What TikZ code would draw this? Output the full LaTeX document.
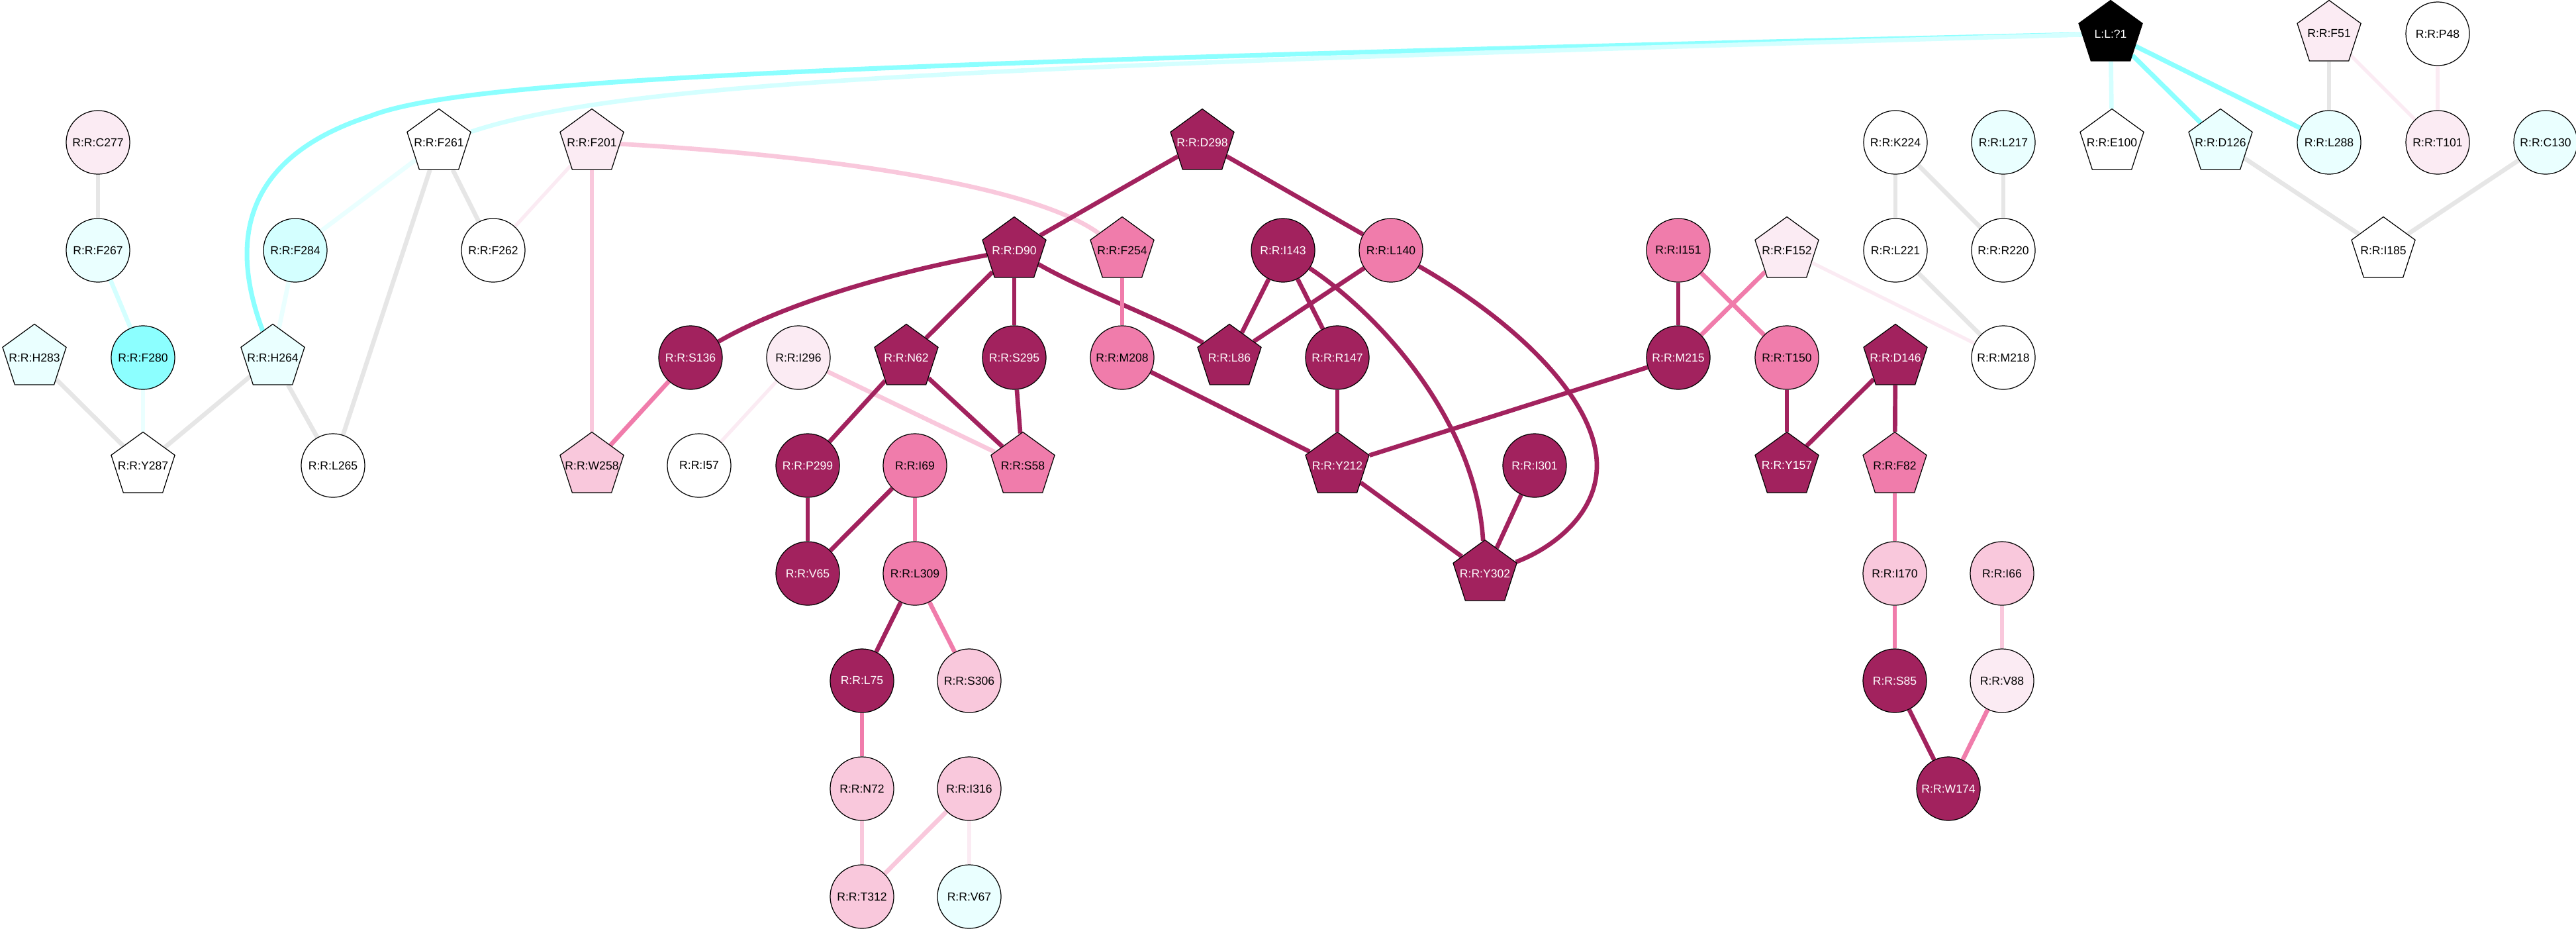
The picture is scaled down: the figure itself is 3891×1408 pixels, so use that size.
\documentclass[tikz,border=0pt]{standalone}
\usepackage{fontspec}
\setmainfont{Liberation Sans}
\usetikzlibrary{shapes.geometric,backgrounds}
\definecolor{dkmag}{HTML}{A2225E}
\definecolor{mdpink}{HTML}{F07CAB}
\definecolor{ltpink}{HTML}{F9C8DC}
\definecolor{vlpink}{HTML}{FBEBF3}
\definecolor{cyfull}{HTML}{8CFFFF}
\definecolor{ltcyan}{HTML}{D4FFFF}
\definecolor{vlcyan}{HTML}{EAFFFF}
\definecolor{edgegray}{HTML}{E6E6E6}
\begin{document}
\begin{tikzpicture}[x=0.01cm,y=-0.01cm,
    res/.style={circle,draw=black,line width=0.35pt,minimum size=0.96cm,inner sep=0pt,font=\fontsize{5}{6}\selectfont},
    pent/.style={regular polygon,regular polygon sides=5,draw=black,line width=0.35pt,minimum size=1.01cm,inner sep=0pt,font=\fontsize{5}{6}\selectfont,
        execute at begin node={\hbox to 0pt\bgroup\hss},execute at end node={\hss\egroup}},
    dk/.style={fill=dkmag,text=white},
    md/.style={fill=mdpink},
    lt/.style={fill=ltpink},
    vl/.style={fill=vlpink},
    cy/.style={fill=cyfull},
    lc/.style={fill=ltcyan},
    vc/.style={fill=vlcyan},
    wh/.style={fill=white},
    dkline/.style={draw=dkmag,line width=1.9pt},
    mdline/.style={draw=mdpink,line width=1.9pt},
    ltline/.style={draw=ltpink,line width=1.9pt},
    vlline/.style={draw=vlpink,line width=1.5pt},
    cyline/.style={draw=cyfull,line width=2pt},
    lcline/.style={draw=ltcyan,line width=1.9pt},
    vcline/.style={draw=vlcyan,line width=1.9pt},
    grline/.style={draw=edgegray,line width=1.9pt}]
    \useasboundingbox (0,0) rectangle (3891,1408);
    \node[pent,fill=black,text=white] (LL) at (3188,51) {L:L:?1};
    \node[pent,vl] (F51) at (3518,51) {R:R:F51};
    \node[res,wh] (P48) at (3682,51) {R:R:P48};
    \node[res,vl] (C277) at (148,215) {R:R:C277};
    \node[pent,wh] (F261) at (663,215) {R:R:F261};
    \node[pent,vl] (F201) at (894,215) {R:R:F201};
    \node[pent,dk] (D298) at (1816,215) {R:R:D298};
    \node[res,wh] (K224) at (2863,215) {R:R:K224};
    \node[res,vc] (L217) at (3026,215) {R:R:L217};
    \node[pent,wh] (E100) at (3190,215) {R:R:E100};
    \node[pent,vc] (D126) at (3354,215) {R:R:D126};
    \node[res,vc] (L288) at (3518,215) {R:R:L288};
    \node[res,vl] (T101) at (3682,215) {R:R:T101};
    \node[res,vc] (C130) at (3845,215) {R:R:C130};
    \node[res,vc] (F267) at (148,378) {R:R:F267};
    \node[res,lc] (F284) at (446,378) {R:R:F284};
    \node[res,wh] (F262) at (745,378) {R:R:F262};
    \node[pent,dk] (D90) at (1532,378) {R:R:D90};
    \node[pent,md] (F254) at (1695,378) {R:R:F254};
    \node[res,dk] (I143) at (1938,378) {R:R:I143};
    \node[res,md] (L140) at (2101,378) {R:R:L140};
    \node[res,md] (I151) at (2535,378) {R:R:I151};
    \node[pent,vl] (F152) at (2699,378) {R:R:F152};
    \node[res,wh] (L221) at (2863,378) {R:R:L221};
    \node[res,wh] (R220) at (3026,378) {R:R:R220};
    \node[pent,wh] (I185) at (3600,378) {R:R:I185};
    \node[pent,vc] (H283) at (52,540) {R:R:H283};
    \node[res,cy] (F280) at (216,540) {R:R:F280};
    \node[pent,vc] (H264) at (412,540) {R:R:H264};
    \node[res,dk] (S136) at (1043,540) {R:R:S136};
    \node[res,vl] (I296) at (1206,540) {R:R:I296};
    \node[pent,dk] (N62) at (1369,540) {R:R:N62};
    \node[res,dk] (S295) at (1532,540) {R:R:S295};
    \node[res,md] (M208) at (1695,540) {R:R:M208};
    \node[pent,dk] (L86) at (1857,540) {R:R:L86};
    \node[res,dk] (R147) at (2020,540) {R:R:R147};
    \node[res,dk] (M215) at (2535,540) {R:R:M215};
    \node[res,md] (T150) at (2699,540) {R:R:T150};
    \node[pent,dk] (D146) at (2863,540) {R:R:D146};
    \node[res,wh] (M218) at (3026,540) {R:R:M218};
    \node[pent,wh] (Y287) at (216,703) {R:R:Y287};
    \node[res,wh] (L265) at (503,703) {R:R:L265};
    \node[pent,lt] (W258) at (894,703) {R:R:W258};
    \node[res,wh] (I57) at (1056,703) {R:R:I57};
    \node[res,dk] (P299) at (1220,703) {R:R:P299};
    \node[res,md] (I69) at (1382,703) {R:R:I69};
    \node[pent,md] (S58) at (1545,703) {R:R:S58};
    \node[pent,dk] (Y212) at (2020,703) {R:R:Y212};
    \node[res,dk] (I301) at (2318,703) {R:R:I301};
    \node[pent,dk] (Y157) at (2699,703) {R:R:Y157};
    \node[pent,md] (F82) at (2862,703) {R:R:F82};
    \node[res,dk] (V65) at (1220,866) {R:R:V65};
    \node[res,md] (L309) at (1382,866) {R:R:L309};
    \node[pent,dk] (Y302) at (2243,866) {R:R:Y302};
    \node[res,lt] (I170) at (2862,866) {R:R:I170};
    \node[res,lt] (I66) at (3024,866) {R:R:I66};
    \node[res,dk] (L75) at (1302,1028) {R:R:L75};
    \node[res,lt] (S306) at (1464,1028) {R:R:S306};
    \node[res,dk] (S85) at (2862,1028) {R:R:S85};
    \node[res,vl] (V88) at (3024,1028) {R:R:V88};
    \node[res,lt] (N72) at (1302,1191) {R:R:N72};
    \node[res,lt] (I316) at (1464,1191) {R:R:I316};
    \node[res,dk] (W174) at (2943,1191) {R:R:W174};
    \node[res,lt] (T312) at (1302,1354) {R:R:T312};
    \node[res,vc] (V67) at (1464,1354) {R:R:V67};
    \begin{scope}[on background layer]
    \draw[grline] (C277) -- (F267);
    \draw[lcline] (F267) -- (F280);
    \draw[vcline] (F280) -- (Y287);
    \draw[grline] (H283) -- (Y287);
    \draw[grline] (H264) -- (Y287);
    \draw[grline] (H264) -- (L265);
    \draw[grline] (F261) -- (L265);
    \draw[grline] (F261) -- (F262);
    \draw[vcline] (F261) -- (F284);
    \draw[vcline] (F284) -- (H264);
    \draw[cyline] (LL) .. controls (1250,95) and (700,120) .. (560,175) .. controls (395,228) and (335,335) .. (H264);
    \draw[lcline] (LL) .. controls (1500,100) and (950,120) .. (F261);
    \draw[vlline] (F201) -- (F262);
    \draw[ltline] (F201) -- (W258);
    \draw[ltline] (F201) .. controls (1250,235) and (1560,280) .. (F254);
    \draw[mdline] (S136) -- (W258);
    \draw[dkline] (S136) .. controls (1200,450) and (1380,405) .. (D90);
    \draw[vlline] (I296) -- (I57);
    \draw[ltline] (I296) -- (S58);
    \draw[dkline] (N62) -- (P299);
    \draw[dkline] (N62) -- (S58);
    \draw[dkline] (N62) -- (D90);
    \draw[dkline] (P299) -- (V65);
    \draw[dkline] (I69) -- (V65);
    \draw[mdline] (I69) -- (L309);
    \draw[dkline] (L309) -- (L75);
    \draw[mdline] (L309) -- (S306);
    \draw[mdline] (L75) -- (N72);
    \draw[ltline] (N72) -- (T312);
    \draw[ltline] (I316) -- (T312);
    \draw[vlline] (I316) -- (V67);
    \draw[dkline] (D90) -- (S295);
    \draw[dkline] (S295) -- (S58);
    \draw[dkline] (D90) .. controls (1640,440) and (1750,480) .. (L86);
    \draw[dkline] (D90) -- (D298);
    \draw[dkline] (D298) -- (L140);
    \draw[mdline] (F254) -- (M208);
    \draw[dkline] (M208) -- (Y212);
    \draw[dkline] (I143) -- (L86);
    \draw[dkline] (L140) -- (L86);
    \draw[dkline] (I143) -- (R147);
    \draw[dkline] (I143) .. controls (2090,480) and (2230,640) .. (Y302);
    \draw[dkline] (L140) .. controls (2280,480) and (2412,600) .. (2412,703) .. controls (2412,780) and (2340,830) .. (Y302);
    \draw[dkline] (R147) -- (Y212);
    \draw[dkline] (Y212) -- (M215);
    \draw[dkline] (Y212) -- (Y302);
    \draw[dkline] (I301) -- (Y302);
    \draw[dkline] (I151) -- (M215);
    \draw[mdline] (I151) -- (T150);
    \draw[mdline] (F152) -- (M215);
    \draw[vlline] (F152) -- (M218);
    \draw[dkline] (T150) -- (Y157);
    \draw[dkline] (D146) -- (Y157);
    \draw[dkline] (D146) -- (F82);
    \draw[mdline] (F82) -- (I170);
    \draw[mdline] (I170) -- (S85);
    \draw[dkline] (S85) -- (W174);
    \draw[mdline] (V88) -- (W174);
    \draw[ltline] (I66) -- (V88);
    \draw[grline] (K224) -- (L221);
    \draw[grline] (K224) -- (R220);
    \draw[grline] (L217) -- (R220);
    \draw[grline] (L221) -- (M218);
    \draw[lcline] (LL) -- (E100);
    \draw[cyline] (LL) -- (D126);
    \draw[cyline] (LL) -- (L288);
    \draw[grline] (F51) -- (L288);
    \draw[vlline] (F51) -- (T101);
    \draw[vlline] (P48) -- (T101);
    \draw[grline] (D126) -- (I185);
    \draw[grline] (C130) -- (I185);
    \end{scope}
\end{tikzpicture}
\end{document}
